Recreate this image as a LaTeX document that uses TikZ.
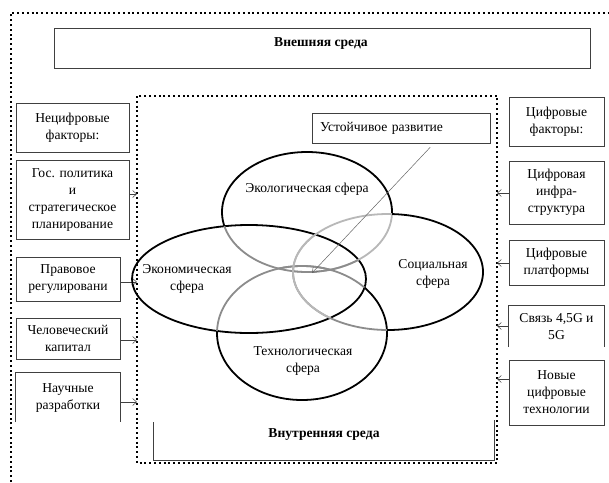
\documentclass[tikz,border=0pt]{standalone}
\usepackage{fontspec}
\setmainfont{Liberation Serif}
\usetikzlibrary{arrows.meta,calc}

\begin{document}
\begin{tikzpicture}[x=1pt,y=-1pt,
  txt/.style={font=\fontsize{13.6}{17}\selectfont, align=center, inner sep=0pt},
  bold/.style={txt, font=\fontsize{13.6}{17}\selectfont\bfseries},
  frame/.style={draw=black!75, line width=0.7pt},
  box/.style={frame, txt},
  dots/.style={line width=2pt, dash pattern=on 2pt off 2.8pt},
  ptr/.style={-{Straight Barb[length=4pt,width=7pt]}, line width=0.5pt, draw=black!75},
  sphere/.style={line width=1.8pt, draw=black},
  faded/.style={line width=1.8pt, draw=black!45},
  fadedlight/.style={line width=1.8pt, draw=black!28},
]
\useasboundingbox (0,0) rectangle (609,482);
\fill[white] (0,0) rectangle (609,482);

% outer environment frame (open to the right and below)
\draw[dots] (11,482) -- (11,13) -- (609,13);

% external environment header
\node[box, minimum width=536, minimum height=40] (ext) at (322,48) {};
\node[bold] (extlbl) at (321,43) {Внешняя среда};

% internal environment frame
\draw[dots] (137,96) rectangle (497,463);

% non-digital factors
\node[box, minimum width=113, minimum height=49] (nf) at (72.5,127.5) {Нецифровые\\факторы:};
\node[box, minimum width=113, minimum height=79] (gos) at (72.5,199.5) {Гос. политика\\и\\стратегическое\\планирование};
\node[box, minimum width=104, minimum height=44] (prav) at (68,279) {Правовое\\регулировани};
\node[box, minimum width=104, minimum height=41] (chel) at (68,338.5) {Человеческий\\капитал};
\node[txt, minimum width=104, minimum height=49] (nauch) at (68,397.5) {Научные\\разработки};
\draw[frame] (nauch.south west) -- (nauch.north west) -- (nauch.north east) -- (nauch.south east);

% digital factors
\node[box, minimum width=95, minimum height=49] (cf) at (556.5,121.5) {Цифровые\\факторы:};
\node[box, minimum width=95, minimum height=63] (infra) at (556.5,192.5) {Цифровая\\инфра-\\структура};
\node[box, minimum width=95, minimum height=45] (plat) at (556.5,262.5) {Цифровые\\платформы};
\node[txt, minimum width=95, minimum height=41] (svz) at (556.5,326.5) {Связь 4,5G и\\5G};
\draw[frame] (svz.south west) -- (svz.north west) -- (svz.north east) -- (svz.south east);
\node[box, minimum width=95, minimum height=65] (newt) at (556.5,392.5) {Новые\\цифровые\\технологии};

% entry points on the internal frame
\coordinate (inGos) at (137,194);
\coordinate (inPrav) at (137,282);
\coordinate (inChel) at (137,340);
\coordinate (inNauch) at (137,402);
\coordinate (inInfra) at (497,193);
\coordinate (inPlat) at (497,263);
\coordinate (inSvz) at (497,326);
\coordinate (inNew) at (497,379);

\draw[ptr] (gos.east |- inGos) -- (inGos);
\draw[ptr] (prav.east |- inPrav) -- (inPrav);
\draw[ptr] (chel.east |- inChel) -- (inChel);
\draw[ptr] (nauch.east |- inNauch) -- (inNauch);
\draw[ptr] (infra.west |- inInfra) -- (inInfra);
\draw[ptr] (plat.west |- inPlat) -- (inPlat);
\draw[ptr] (svz.west |- inSvz) -- (inSvz);
\draw[ptr] (newt.west |- inNew) -- (inNew);

% the four spheres
\def\ecoP{(307,212) ellipse [x radius=85, y radius=60]}
\def\socP{(388,272) ellipse [x radius=95, y radius=58]}
\def\econP{(249,279) ellipse [x radius=117, y radius=54]}
\def\techP{(302,333) ellipse [x radius=85, y radius=67]}
\def\pageP{(0,0) rectangle (609,482)}

% economic sphere: outline fully visible
\draw[sphere] \econP;

% ecological sphere: black outside the economic and social spheres
\begin{scope}[even odd rule]
  \clip \pageP \econP;
  \begin{scope}[even odd rule]
    \clip \pageP \socP;
    \draw[sphere] \ecoP;
  \end{scope}
\end{scope}
\begin{scope}\clip \socP; \draw[fadedlight] \ecoP; \end{scope}
\begin{scope}\clip \econP; \draw[faded] \ecoP; \end{scope}

% technological sphere: black outside the economic and ecological spheres
\begin{scope}[even odd rule]
  \clip \pageP \econP;
  \begin{scope}[even odd rule]
    \clip \pageP \ecoP;
    \draw[sphere] \techP;
  \end{scope}
\end{scope}
\begin{scope}\clip \ecoP; \draw[faded] \techP; \end{scope}
\begin{scope}\clip \econP; \draw[faded] \techP; \end{scope}

% social sphere: black outside all the others
\begin{scope}[even odd rule]
  \clip \pageP \econP;
  \begin{scope}[even odd rule]
    \clip \pageP \ecoP;
    \begin{scope}[even odd rule]
      \clip \pageP \techP;
      \draw[sphere] \socP;
    \end{scope}
  \end{scope}
\end{scope}
\begin{scope}\clip \techP; \draw[faded] \socP; \end{scope}
\begin{scope}\clip \econP; \draw[fadedlight] \socP; \end{scope}
\begin{scope}\clip \ecoP; \draw[fadedlight] \socP; \end{scope}

\node[txt] (eco) at (307,189) {Экологическая сфера};
\node[txt] (soc) at (433,274) {Социальная\\сфера};
\node[txt] (econ) at (187,279) {Экономическая\\сфера};
\node[txt] (tech) at (303,361) {Технологическая\\сфера};

% sustainable development callout
\node[box, minimum width=178, minimum height=30, text width=162, align=left] (ust) at (401,128) {Устойчивое развитие};
\coordinate (core) at (312,273);
\draw[-{Straight Barb[length=5pt,width=7pt]}, line width=0.5pt, draw=black!60]
  ($(ust.south west)!0.663!(ust.south east)+(0,4)$) -- (core);

% internal environment label
\node[bold] (intlbl) at (324,435) {Внутренняя среда};
\draw[draw=black!75, line width=0.6pt] (153,422) -- (153,460) -- (494,460) -- (494,420);
\end{tikzpicture}
\end{document}
